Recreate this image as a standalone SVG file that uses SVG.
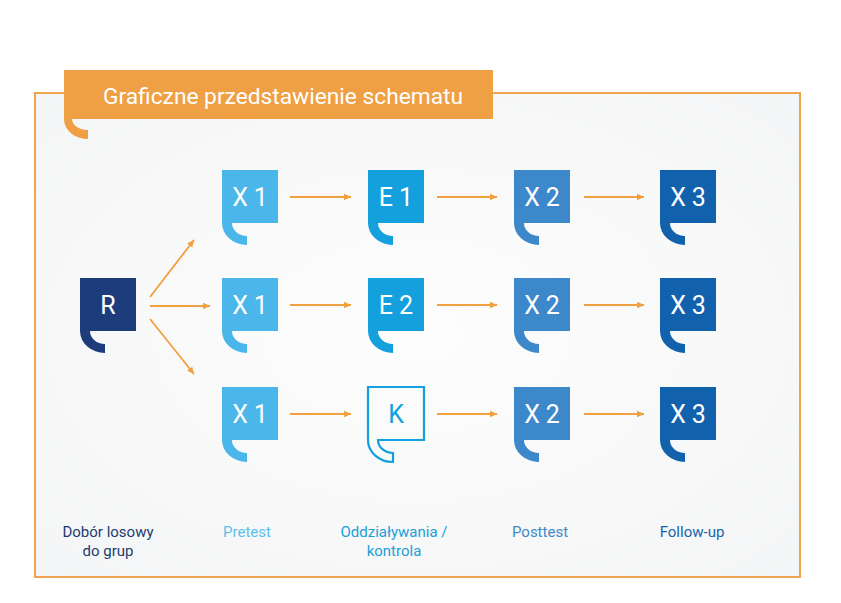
<svg xmlns="http://www.w3.org/2000/svg" width="841" height="603" viewBox="0 0 841 603">
  <defs>
    <radialGradient id="bg" cx="0.5" cy="0.5" r="0.7">
      <stop offset="0" stop-color="#fdfdfd"/>
      <stop offset="1" stop-color="#f4f5f6"/>
    </radialGradient>
    <path id="node" d="M0,0 H56 V53 H10 A15,13 0 0 0 25,66 V75 A25,22 0 0 1 0,53 Z"/>
    <marker id="ah" markerWidth="8" markerHeight="8" refX="7" refY="4" orient="auto" markerUnits="userSpaceOnUse">
      <path d="M0,0.8 L7.5,4 L0,7.2 Z" fill="#f0a040"/>
    </marker>
    <style>
      .frame { fill: url(#bg); stroke: #f0a450; stroke-width: 2; }
      .lbl { font-family: Roboto, "Liberation Sans", sans-serif; font-size: 15px; text-anchor: middle; }
      .box { font-family: Roboto, "Liberation Sans", sans-serif; font-size: 25px; fill: #ffffff; text-anchor: middle; letter-spacing: 6px; }
      .conn line { stroke: #f0a040; stroke-width: 1.8; fill: none; marker-end: url(#ah); }
      .c0 { fill: #1c3c7c; }
      .c1 { fill: #4ab6ea; }
      .c2 { fill: #13a0dc; }
      .c3 { fill: #3d87cb; }
      .c4 { fill: #1261ad; }
    </style>
  </defs>

  <rect x="0" y="0" width="841" height="603" fill="#ffffff"/>
  <rect class="frame" x="35" y="93" width="765" height="484"/>

  <!-- Title banner -->
  <g id="title">
    <path d="M64,70 H493 V119 H72 A16,11 0 0 0 88,130 V139 A24,20 0 0 1 64,119 Z" fill="#f0a044"/>
    <text x="103" y="104" font-family="Roboto, 'Liberation Sans', sans-serif" font-size="22" fill="#ffffff" textLength="360" lengthAdjust="spacingAndGlyphs">Graficzne przedstawienie schematu</text>
  </g>

  <!-- Connectors -->
  <g id="connectors" class="conn">
    <line x1="150" y1="297" x2="194" y2="240"/>
    <line x1="150" y1="306" x2="210" y2="306"/>
    <line x1="150" y1="319" x2="194" y2="374"/>
    <line x1="290" y1="197" x2="351" y2="197"/>
    <line x1="437" y1="197" x2="497" y2="197"/>
    <line x1="584" y1="197" x2="644" y2="197"/>
    <line x1="290" y1="305" x2="351" y2="305"/>
    <line x1="437" y1="305" x2="497" y2="305"/>
    <line x1="584" y1="305" x2="644" y2="305"/>
    <line x1="290" y1="414" x2="351" y2="414"/>
    <line x1="437" y1="414" x2="497" y2="414"/>
    <line x1="584" y1="414" x2="644" y2="414"/>
  </g>

  <!-- Nodes -->
  <g id="node-R" transform="translate(80,278)">
    <use href="#node" class="c0"/>
    <text class="box" x="31" y="36">R</text>
  </g>

  <g id="node-X1-a" transform="translate(222,170)">
    <use href="#node" class="c1"/>
    <text class="box" x="31" y="36">X1</text>
  </g>
  <g id="node-X1-b" transform="translate(222,278)">
    <use href="#node" class="c1"/>
    <text class="box" x="31" y="36">X1</text>
  </g>
  <g id="node-X1-c" transform="translate(222,387)">
    <use href="#node" class="c1"/>
    <text class="box" x="31" y="36">X1</text>
  </g>

  <g id="node-E1" transform="translate(368,170)">
    <use href="#node" class="c2"/>
    <text class="box" x="31" y="36">E1</text>
  </g>
  <g id="node-E2" transform="translate(368,278)">
    <use href="#node" class="c2"/>
    <text class="box" x="31" y="36">E2</text>
  </g>
  <g id="node-K" transform="translate(368,387)">
    <use href="#node" fill="none" stroke="#13a0dc" stroke-width="2.2"/>
    <text class="box" x="28" y="36" style="fill:#13a0dc;letter-spacing:0">K</text>
  </g>

  <g id="node-X2-a" transform="translate(514,170)">
    <use href="#node" class="c3"/>
    <text class="box" x="31" y="36">X2</text>
  </g>
  <g id="node-X2-b" transform="translate(514,278)">
    <use href="#node" class="c3"/>
    <text class="box" x="31" y="36">X2</text>
  </g>
  <g id="node-X2-c" transform="translate(514,387)">
    <use href="#node" class="c3"/>
    <text class="box" x="31" y="36">X2</text>
  </g>

  <g id="node-X3-a" transform="translate(660,170)">
    <use href="#node" class="c4"/>
    <text class="box" x="31" y="36">X3</text>
  </g>
  <g id="node-X3-b" transform="translate(660,278)">
    <use href="#node" class="c4"/>
    <text class="box" x="31" y="36">X3</text>
  </g>
  <g id="node-X3-c" transform="translate(660,387)">
    <use href="#node" class="c4"/>
    <text class="box" x="31" y="36">X3</text>
  </g>

  <!-- Column labels -->
  <g id="labels">
    <text class="lbl" x="108" y="537" fill="#1d3b72">Dobór losowy</text>
    <text class="lbl" x="108" y="556" fill="#1d3b72">do grup</text>
    <text class="lbl" x="247" y="537" fill="#5cc0ea">Pretest</text>
    <text class="lbl" x="394" y="537" fill="#1aa0d8">Oddziaływania /</text>
    <text class="lbl" x="394" y="556" fill="#1aa0d8">kontrola</text>
    <text class="lbl" x="540" y="537" fill="#3f88c9">Posttest</text>
    <text class="lbl" x="692" y="537" fill="#1564ad">Follow-up</text>
  </g>
</svg>
